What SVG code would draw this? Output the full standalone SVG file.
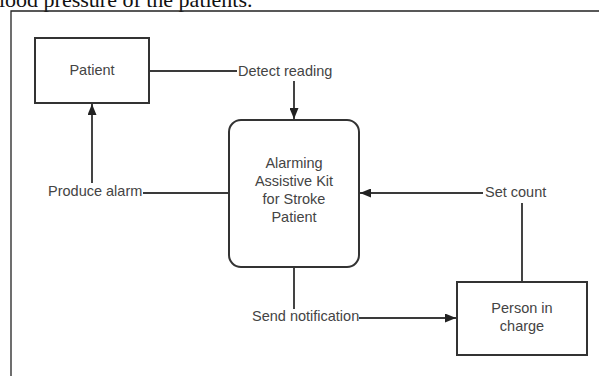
<svg xmlns="http://www.w3.org/2000/svg" width="599" height="376" viewBox="0 0 599 376">
<style>
.box{fill:#fff;stroke:#333;stroke-width:2}
.ln{fill:none;stroke:#3a3a3a;stroke-width:1.9}
.t{font-family:"Liberation Sans",Arial,sans-serif;font-size:14.5px;fill:#444}
.c{text-anchor:middle}
</style>
<defs>
<marker id="ah" viewBox="0 0 10 10" refX="10" refY="5" markerWidth="11" markerHeight="9" orient="auto" markerUnits="userSpaceOnUse" preserveAspectRatio="none">
<path d="M0,0L10,5L0,10z" fill="#222"/>
</marker>
</defs>
<rect width="599" height="376" fill="#fff"/>
<text x="-1" y="7" style="font-family:'Liberation Serif','Times New Roman',serif;font-size:22px;fill:#111">lood pressure of the patients.</text>
<path d="M11,376V11H599" fill="none" stroke="#222" stroke-width="1.3"/>
<g id="connectors">
<path class="ln" d="M149,71H237"/>
<path class="ln" d="M294,81V119" marker-end="url(#ah)"/>
<path class="ln" d="M229,193H143"/>
<path class="ln" d="M92,183V104" marker-end="url(#ah)"/>
<path class="ln" d="M483,193H360" marker-end="url(#ah)"/>
<path class="ln" d="M522,203V282"/>
<path class="ln" d="M294,267V309"/>
<path class="ln" d="M359,318H456" marker-end="url(#ah)"/>
<text class="t" x="238" y="76">Detect reading</text>
<text class="t" x="48" y="196">Produce alarm</text>
<text class="t" x="485" y="197">Set count</text>
<text class="t" x="252" y="321">Send notification</text>
</g>
<g id="patient">
<rect class="box" x="35" y="38" width="114" height="65"/>
<text class="t c" x="92" y="75">Patient</text>
</g>
<g id="kit">
<rect class="box" x="229" y="120" width="130" height="147" rx="12"/>
<text class="t c" x="294" y="168">Alarming</text>
<text class="t c" x="294" y="186">Assistive Kit</text>
<text class="t c" x="294" y="204">for Stroke</text>
<text class="t c" x="294" y="222">Patient</text>
</g>
<g id="person">
<rect class="box" x="457" y="282" width="130" height="73"/>
<text class="t c" x="522" y="313">Person in</text>
<text class="t c" x="522" y="331">charge</text>
</g>
</svg>
